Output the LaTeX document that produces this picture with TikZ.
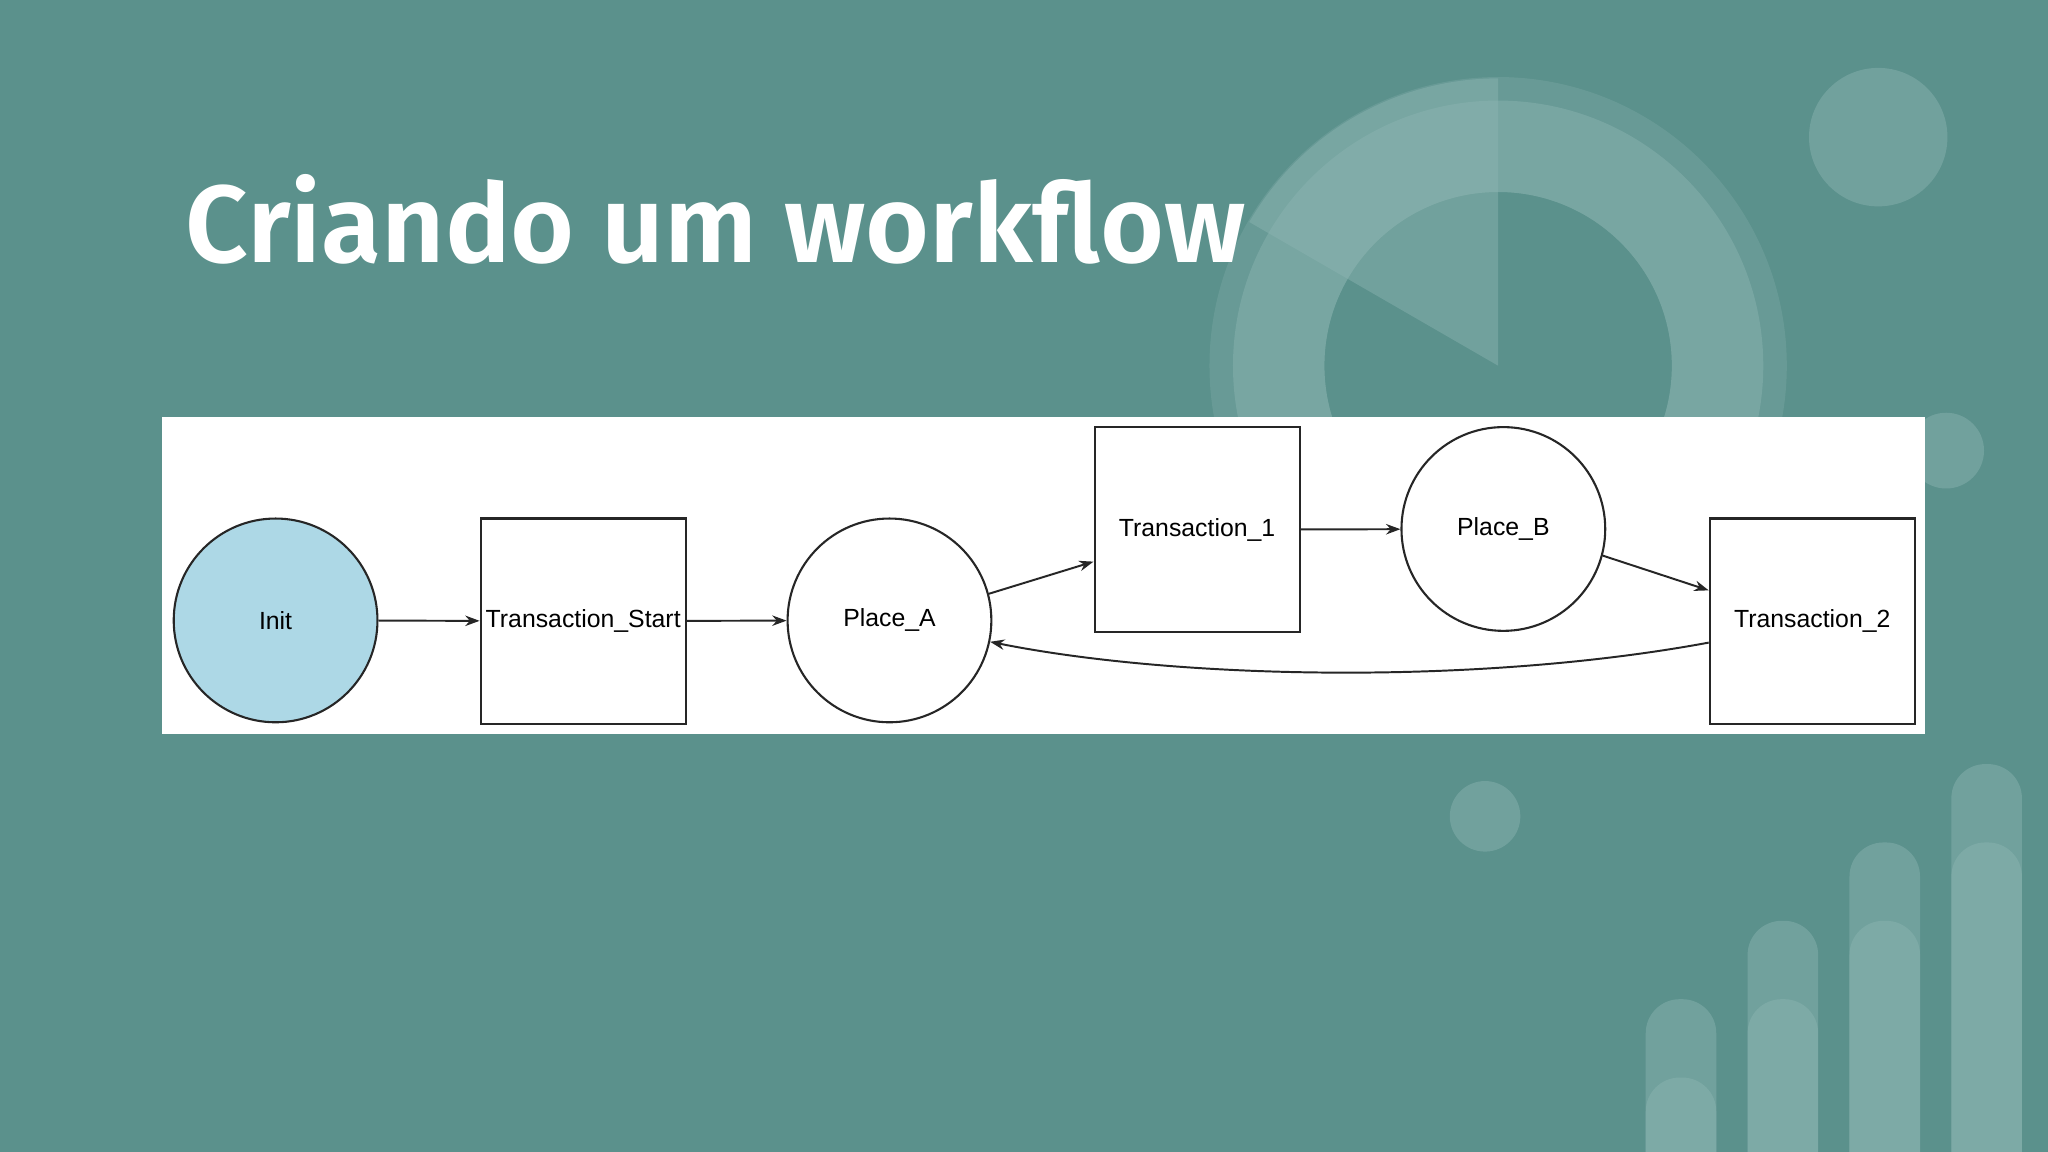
\documentclass[tikz,border=0pt]{standalone}
\usepackage{fontspec}
\setmainfont{Liberation Sans}
\newfontfamily\titlefont{Fira Sans SemiBold}
\usetikzlibrary{arrows.meta}
\definecolor{bg}{HTML}{5B918C}
\definecolor{deco}{HTML}{7AA7A3}
\definecolor{deco2}{HTML}{8DB5B2}
\definecolor{initc}{HTML}{ADD8E6}
\tikzset{
 place/.style={circle,draw=black!85,line width=1.6pt,minimum size=156pt,inner sep=0pt,font=\fontsize{19}{22}\selectfont},
 trans/.style={rectangle,draw=black!85,line width=1.6pt,minimum size=157pt,inner sep=0pt,font=\fontsize{19}{22}\selectfont},
 conn/.style={draw=black!85,line width=1.5pt,-{Stealth[length=11pt,width=8pt]}},
}
\begin{document}
\begin{tikzpicture}[x=1pt,y=-1pt]
\useasboundingbox (0,0) rectangle (1568,882);
\fill[bg] (0,0) rectangle (1568,882);
% decorations
\begin{scope}[opacity=0.45]
\fill[deco,even odd rule] (1147,280) circle (221) (1147,280) circle (133);
\fill[deco2] (1147,280) -- (1147,60) arc (270:210:220) -- cycle;
\fill[deco2,even odd rule] (1147,280) circle (203) (1147,280) circle (133);
\fill[deco2] (1438,105) circle (53);
\fill[deco2] (1490,345) circle (29);
\fill[deco2] (1137,625) circle (27);
\foreach \x/\t in {1260/765,1338/705,1416/645,1494/585}{
  \fill[deco2,rounded corners=26pt] (\x,\t) rectangle (\x+54,910);
  \fill[deco2,rounded corners=26pt] (\x,\t+60) rectangle (\x+54,910);
}
\end{scope}
\node[anchor=base west,text=white,inner sep=0pt,font=\titlefont\fontsize{84}{90}\selectfont] (title) at (142,201) {Criando um workflow};
% panel
\fill[white] (124,319) rectangle (1474,562);
\node[place,fill=initc] (init) at (211,475) {Init};
\node[trans] (ts) at (446.5,475.5) {Transaction\_Start};
\node[place] (pa) at (681,475) {Place\_A};
\node[trans] (t1) at (916.5,405.5) {Transaction\_1};
\node[place] (pb) at (1151,405) {Place\_B};
\node[trans] (t2) at (1387.5,475.5) {Transaction\_2};
\draw[conn] (init) -- (ts);
\draw[conn] (ts) -- (pa);
\draw[conn] (pa.15) -- (t1.west |- 0,430);
\draw[conn] (t1) -- (pb);
\draw[conn] (pb.-15) -- (t2.west |- 0,452);
\draw[conn] (t2.west |- 0,492) .. controls (1130,525) and (900,520) .. (pa.-12);
\end{tikzpicture}
\end{document}
